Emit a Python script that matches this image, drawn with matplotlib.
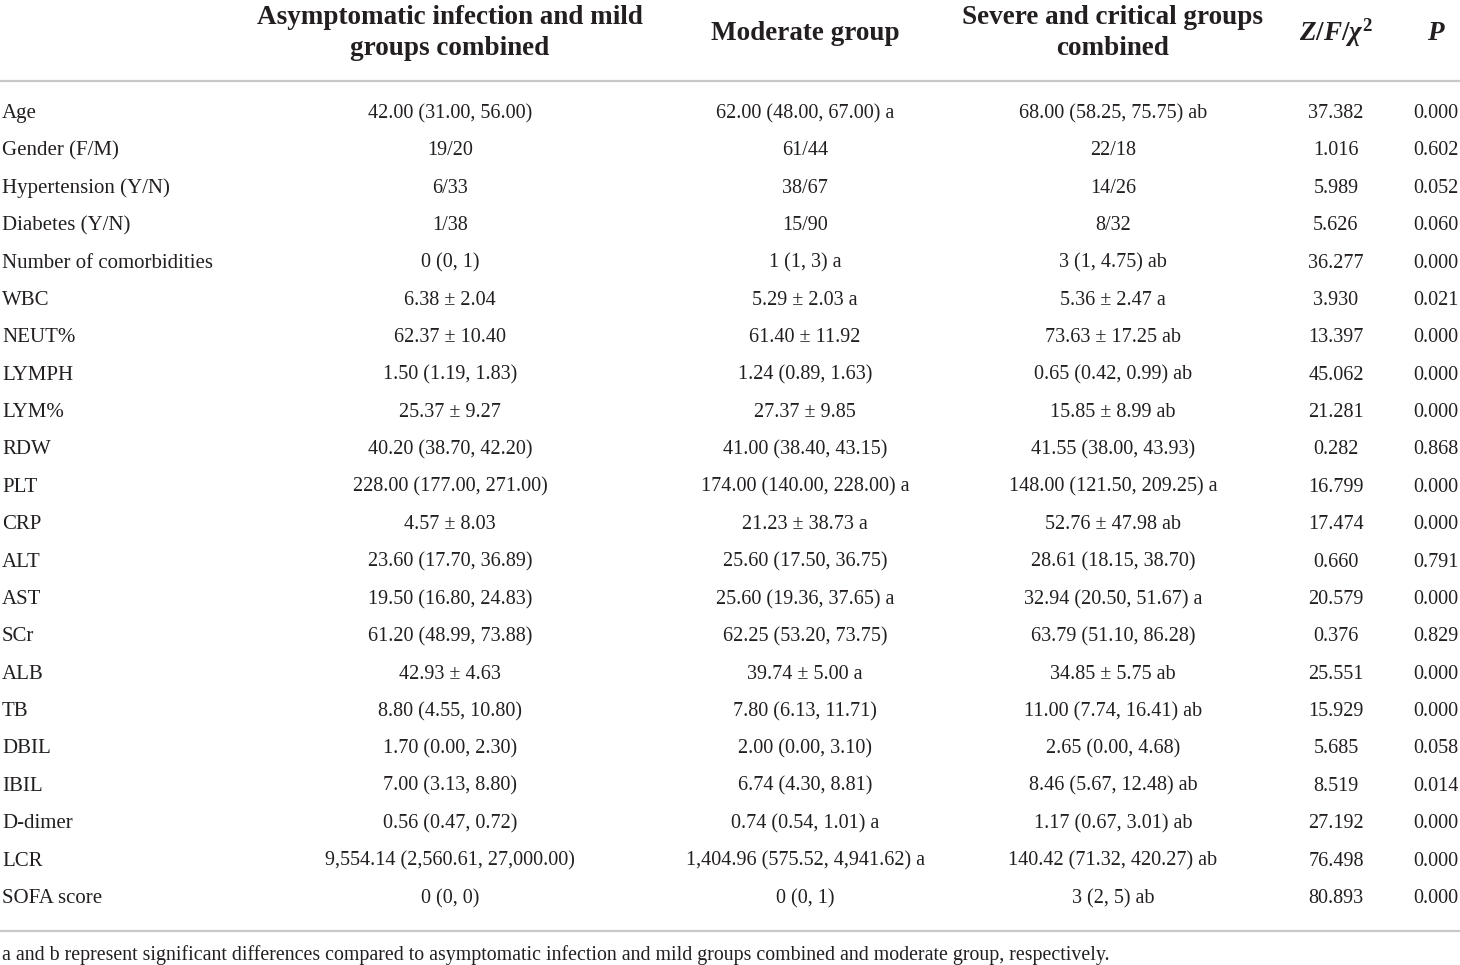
import matplotlib
matplotlib.use("Agg")
import matplotlib.pyplot as plt
from matplotlib.lines import Line2D

plt.rcParams['font.family'] = ['Liberation Serif', 'DejaVu Serif']
plt.rcParams['mathtext.fontset'] = 'custom'
plt.rcParams['mathtext.it'] = 'Liberation Serif:italic:bold'
plt.rcParams['mathtext.rm'] = 'Liberation Serif:bold'

# ---- table content ----
headers = ["Asymptomatic infection and mild\ngroups combined",
           "Moderate group",
           "Severe and critical groups\ncombined",
           r"$Z/F/\chi^2$",
           r"$P$"]

row_labels = ["Age", "Gender (F/M)", "Hypertension (Y/N)", "Diabetes (Y/N)",
              "Number of comorbidities", "WBC", "NEUT%", "LYMPH", "LYM%", "RDW",
              "PLT", "CRP", "ALT", "AST", "SCr", "ALB", "TB", "DBIL", "IBIL",
              "D-dimer", "LCR", "SOFA score"]

mild_group = ["42.00 (31.00, 56.00)", "19/20", "6/33", "1/38", "0 (0, 1)",
              "6.38 ± 2.04", "62.37 ± 10.40", "1.50 (1.19, 1.83)", "25.37 ± 9.27",
              "40.20 (38.70, 42.20)", "228.00 (177.00, 271.00)", "4.57 ± 8.03",
              "23.60 (17.70, 36.89)", "19.50 (16.80, 24.83)", "61.20 (48.99, 73.88)",
              "42.93 ± 4.63", "8.80 (4.55, 10.80)", "1.70 (0.00, 2.30)",
              "7.00 (3.13, 8.80)", "0.56 (0.47, 0.72)",
              "9,554.14 (2,560.61, 27,000.00)", "0 (0, 0)"]

moderate_group = ["62.00 (48.00, 67.00) a", "61/44", "38/67", "15/90", "1 (1, 3) a",
                  "5.29 ± 2.03 a", "61.40 ± 11.92", "1.24 (0.89, 1.63)", "27.37 ± 9.85",
                  "41.00 (38.40, 43.15)", "174.00 (140.00, 228.00) a", "21.23 ± 38.73 a",
                  "25.60 (17.50, 36.75)", "25.60 (19.36, 37.65) a", "62.25 (53.20, 73.75)",
                  "39.74 ± 5.00 a", "7.80 (6.13, 11.71)", "2.00 (0.00, 3.10)",
                  "6.74 (4.30, 8.81)", "0.74 (0.54, 1.01) a",
                  "1,404.96 (575.52, 4,941.62) a", "0 (0, 1)"]

severe_group = ["68.00 (58.25, 75.75) ab", "22/18", "14/26", "8/32", "3 (1, 4.75) ab",
                "5.36 ± 2.47 a", "73.63 ± 17.25 ab", "0.65 (0.42, 0.99) ab",
                "15.85 ± 8.99 ab", "41.55 (38.00, 43.93)", "148.00 (121.50, 209.25) a",
                "52.76 ± 47.98 ab", "28.61 (18.15, 38.70)", "32.94 (20.50, 51.67) a",
                "63.79 (51.10, 86.28)", "34.85 ± 5.75 ab", "11.00 (7.74, 16.41) ab",
                "2.65 (0.00, 4.68)", "8.46 (5.67, 12.48) ab", "1.17 (0.67, 3.01) ab",
                "140.42 (71.32, 420.27) ab", "3 (2, 5) ab"]

stat_values = ["37.382", "1.016", "5.989", "5.626", "36.277", "3.930", "13.397",
               "45.062", "21.281", "0.282", "16.799", "17.474", "0.660", "20.579",
               "0.376", "25.551", "15.929", "5.685", "8.519", "27.192", "76.498",
               "80.893"]

p_values = ["0.000", "0.602", "0.052", "0.060", "0.000", "0.021", "0.000", "0.000",
            "0.000", "0.868", "0.000", "0.000", "0.791", "0.000", "0.829", "0.000",
            "0.000", "0.058", "0.014", "0.000", "0.000", "0.000"]

footnote = ("a and b represent significant differences compared to asymptomatic "
            "infection and mild groups combined and moderate group, respectively.")

W, H = 1460, 965
fig = plt.figure(figsize=(W / 100, H / 100), dpi=100)
fig.patch.set_facecolor('white')


def fx(x):
    return x / W


def fy(y):
    return 1 - y / H


col_x = [450, 805, 1113, 1336, 1436]
text_color = '#231f20'
rule_color = '#c8c8c8'

# header
for x, h in zip(col_x, headers):
    fig.text(fx(x), fy(33), h, ha='center', va='center', fontsize=19.5,
             fontweight='bold', color=text_color, linespacing=1.35)

# rules
fig.add_artist(Line2D([0, 1], [fy(81), fy(81)], color=rule_color, lw=1.6))
fig.add_artist(Line2D([0, 1], [fy(931), fy(931)], color=rule_color, lw=1.6))

# body rows
row_y0, row_step = 113.5, 37.38
columns = [mild_group, moderate_group, severe_group, stat_values, p_values]
for i, label in enumerate(row_labels):
    y = fy(row_y0 + i * row_step)
    fig.text(fx(2), y, label, ha='left', va='center', fontsize=15.0, color=text_color)
    for x, col in zip(col_x, columns):
        fig.text(fx(x), y, col[i], ha='center', va='center', fontsize=14.5,
                 color=text_color)

fig.text(fx(2), fy(955), footnote, ha='left', va='center', fontsize=14.3,
         color=text_color)

fig.savefig('out.png', dpi=100, facecolor='white')
